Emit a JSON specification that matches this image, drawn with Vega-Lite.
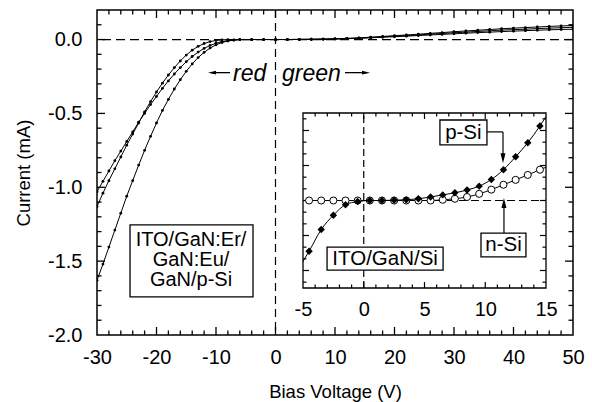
{
"$schema": "https://vega.github.io/schema/vega-lite/v6.json",
"width": 476, "height": 325,
"autosize": {"type": "none"},
"padding": {"left": 97, "top": 10, "right": 19, "bottom": 67},
"background": "white",
"view": {"stroke": "black", "strokeWidth": 1.5},
"config": {
  "font": "Liberation Sans",
  "axis": {"grid": false, "domain": false, "ticks": false, "tickSize": 0, "labelColor": "black", "labelFont": "Liberation Sans", "labelFontSize": 20, "titleFont": "Liberation Sans", "titleFontSize": 18.5, "titleFontWeight": "normal", "titleColor": "black", "labelFlush": false, "labelOverlap": false}
},
"datasets": {
"main": [
{"s":"A","V":-30,"I":-1.03},{"s":"A","V":-29,"I":-0.96},{"s":"A","V":-28,"I":-0.89},{"s":"A","V":-27,"I":-0.82},{"s":"A","V":-26,"I":-0.755},{"s":"A","V":-25,"I":-0.69},{"s":"A","V":-24,"I":-0.625},{"s":"A","V":-23,"I":-0.56},{"s":"A","V":-22,"I":-0.5},{"s":"A","V":-21,"I":-0.44},{"s":"A","V":-20,"I":-0.385},{"s":"A","V":-19,"I":-0.33},{"s":"A","V":-18,"I":-0.28},{"s":"A","V":-17,"I":-0.233},{"s":"A","V":-16,"I":-0.19},{"s":"A","V":-15,"I":-0.15},{"s":"A","V":-14,"I":-0.115},{"s":"A","V":-13,"I":-0.085},{"s":"A","V":-12,"I":-0.06},{"s":"A","V":-11,"I":-0.04},{"s":"A","V":-10,"I":-0.025},{"s":"A","V":-9,"I":-0.014},{"s":"A","V":-8,"I":-0.007},{"s":"A","V":-7,"I":-0.002},{"s":"A","V":-6,"I":0},{"s":"A","V":-4,"I":0},{"s":"A","V":-2,"I":0},{"s":"A","V":0,"I":0},{"s":"A","V":2,"I":0.0005},{"s":"A","V":4,"I":0.001},{"s":"A","V":6,"I":0.002},{"s":"A","V":8,"I":0.003},{"s":"A","V":10,"I":0.005},{"s":"A","V":12,"I":0.008},{"s":"A","V":14,"I":0.011},{"s":"A","V":16,"I":0.016},{"s":"A","V":18,"I":0.021},{"s":"A","V":20,"I":0.026},{"s":"A","V":22,"I":0.031},{"s":"A","V":24,"I":0.036},{"s":"A","V":26,"I":0.042},{"s":"A","V":28,"I":0.047},{"s":"A","V":30,"I":0.053},{"s":"A","V":32,"I":0.058},{"s":"A","V":34,"I":0.063},{"s":"A","V":36,"I":0.068},{"s":"A","V":38,"I":0.073},{"s":"A","V":40,"I":0.077},{"s":"A","V":42,"I":0.081},{"s":"A","V":44,"I":0.085},{"s":"A","V":46,"I":0.089},{"s":"A","V":48,"I":0.092},{"s":"A","V":50,"I":0.095},
{"s":"B","V":-30,"I":-1.13},{"s":"B","V":-29,"I":-1.04},{"s":"B","V":-28,"I":-0.955},{"s":"B","V":-27,"I":-0.875},{"s":"B","V":-26,"I":-0.795},{"s":"B","V":-25,"I":-0.715},{"s":"B","V":-24,"I":-0.64},{"s":"B","V":-23,"I":-0.565},{"s":"B","V":-22,"I":-0.49},{"s":"B","V":-21,"I":-0.42},{"s":"B","V":-20,"I":-0.355},{"s":"B","V":-19,"I":-0.295},{"s":"B","V":-18,"I":-0.24},{"s":"B","V":-17,"I":-0.19},{"s":"B","V":-16,"I":-0.145},{"s":"B","V":-15,"I":-0.105},{"s":"B","V":-14,"I":-0.072},{"s":"B","V":-13,"I":-0.046},{"s":"B","V":-12,"I":-0.027},{"s":"B","V":-11,"I":-0.014},{"s":"B","V":-10,"I":-0.006},{"s":"B","V":-9,"I":-0.002},{"s":"B","V":-8,"I":0},{"s":"B","V":-6,"I":0},{"s":"B","V":-4,"I":0},{"s":"B","V":-2,"I":0},{"s":"B","V":0,"I":0},{"s":"B","V":2,"I":0},{"s":"B","V":4,"I":0.001},{"s":"B","V":6,"I":0.002},{"s":"B","V":8,"I":0.003},{"s":"B","V":10,"I":0.004},{"s":"B","V":12,"I":0.007},{"s":"B","V":14,"I":0.01},{"s":"B","V":16,"I":0.014},{"s":"B","V":18,"I":0.018},{"s":"B","V":20,"I":0.023},{"s":"B","V":22,"I":0.027},{"s":"B","V":24,"I":0.031},{"s":"B","V":26,"I":0.037},{"s":"B","V":28,"I":0.041},{"s":"B","V":30,"I":0.046},{"s":"B","V":32,"I":0.05},{"s":"B","V":34,"I":0.055},{"s":"B","V":36,"I":0.059},{"s":"B","V":38,"I":0.064},{"s":"B","V":40,"I":0.067},{"s":"B","V":42,"I":0.07},{"s":"B","V":44,"I":0.074},{"s":"B","V":46,"I":0.077},{"s":"B","V":48,"I":0.08},{"s":"B","V":50,"I":0.083},
{"s":"C","V":-30,"I":-1.63},{"s":"C","V":-29,"I":-1.52},{"s":"C","V":-28,"I":-1.405},{"s":"C","V":-27,"I":-1.29},{"s":"C","V":-26,"I":-1.175},{"s":"C","V":-25,"I":-1.06},{"s":"C","V":-24,"I":-0.955},{"s":"C","V":-23,"I":-0.85},{"s":"C","V":-22,"I":-0.75},{"s":"C","V":-21,"I":-0.655},{"s":"C","V":-20,"I":-0.565},{"s":"C","V":-19,"I":-0.48},{"s":"C","V":-18,"I":-0.405},{"s":"C","V":-17,"I":-0.335},{"s":"C","V":-16,"I":-0.272},{"s":"C","V":-15,"I":-0.215},{"s":"C","V":-14,"I":-0.165},{"s":"C","V":-13,"I":-0.122},{"s":"C","V":-12,"I":-0.087},{"s":"C","V":-11,"I":-0.058},{"s":"C","V":-10,"I":-0.036},{"s":"C","V":-9,"I":-0.02},{"s":"C","V":-8,"I":-0.01},{"s":"C","V":-7,"I":-0.004},{"s":"C","V":-6,"I":-0.001},{"s":"C","V":-4,"I":0},{"s":"C","V":-2,"I":0},{"s":"C","V":0,"I":0},{"s":"C","V":2,"I":0},{"s":"C","V":4,"I":0.001},{"s":"C","V":6,"I":0.001},{"s":"C","V":8,"I":0.002},{"s":"C","V":10,"I":0.004},{"s":"C","V":12,"I":0.006},{"s":"C","V":14,"I":0.008},{"s":"C","V":16,"I":0.012},{"s":"C","V":18,"I":0.016},{"s":"C","V":20,"I":0.019},{"s":"C","V":22,"I":0.023},{"s":"C","V":24,"I":0.027},{"s":"C","V":26,"I":0.031},{"s":"C","V":28,"I":0.035},{"s":"C","V":30,"I":0.039},{"s":"C","V":32,"I":0.043},{"s":"C","V":34,"I":0.047},{"s":"C","V":36,"I":0.05},{"s":"C","V":38,"I":0.054},{"s":"C","V":40,"I":0.057},{"s":"C","V":42,"I":0.06},{"s":"C","V":44,"I":0.063},{"s":"C","V":46,"I":0.066},{"s":"C","V":48,"I":0.068},{"s":"C","V":50,"I":0.07}
],
"inset": [
{"t":"n","Vi":-5,"U":0,"m":0},{"t":"n","Vi":-4.5,"U":0,"m":1},{"t":"n","Vi":-3.5,"U":0,"m":1},{"t":"n","Vi":-2.5,"U":0,"m":1},{"t":"n","Vi":-1.5,"U":0,"m":1},{"t":"n","Vi":-0.5,"U":0,"m":1},{"t":"n","Vi":0.5,"U":0,"m":1},{"t":"n","Vi":1.5,"U":0,"m":1},{"t":"n","Vi":2.5,"U":0,"m":1},{"t":"n","Vi":3.5,"U":0,"m":1},{"t":"n","Vi":4.5,"U":0,"m":1},{"t":"n","Vi":5.5,"U":0,"m":1},{"t":"n","Vi":6.5,"U":0.02,"m":1},{"t":"n","Vi":7.5,"U":0.05,"m":1},{"t":"n","Vi":8.5,"U":0.1,"m":1},{"t":"n","Vi":9.5,"U":0.19,"m":1},{"t":"n","Vi":10.5,"U":0.31,"m":1},{"t":"n","Vi":11.5,"U":0.45,"m":1},{"t":"n","Vi":12.5,"U":0.59,"m":1},{"t":"n","Vi":13.5,"U":0.73,"m":1},{"t":"n","Vi":14.5,"U":0.88,"m":1},{"t":"n","Vi":15,"U":0.95,"m":0},
{"t":"p","Vi":-5,"U":-1.74,"m":0},{"t":"p","Vi":-4.5,"U":-1.45,"m":1},{"t":"p","Vi":-3.5,"U":-0.83,"m":1},{"t":"p","Vi":-2.5,"U":-0.42,"m":1},{"t":"p","Vi":-1.5,"U":-0.12,"m":1},{"t":"p","Vi":-0.5,"U":-0.03,"m":1},{"t":"p","Vi":0.5,"U":0,"m":1},{"t":"p","Vi":1.5,"U":0,"m":1},{"t":"p","Vi":2.5,"U":0.01,"m":1},{"t":"p","Vi":3.5,"U":0.02,"m":1},{"t":"p","Vi":4.5,"U":0.05,"m":1},{"t":"p","Vi":5.5,"U":0.1,"m":1},{"t":"p","Vi":6.5,"U":0.16,"m":1},{"t":"p","Vi":7.5,"U":0.22,"m":1},{"t":"p","Vi":8.5,"U":0.3,"m":1},{"t":"p","Vi":9.5,"U":0.41,"m":1},{"t":"p","Vi":10.5,"U":0.6,"m":1},{"t":"p","Vi":11.5,"U":0.88,"m":1},{"t":"p","Vi":12.5,"U":1.25,"m":1},{"t":"p","Vi":13.5,"U":1.65,"m":1},{"t":"p","Vi":14.5,"U":2.13,"m":1},{"t":"p","Vi":15,"U":2.4,"m":0}
]
},
"layer": [
{
 "layer": [
  {"data": {"values": [{}]}, "mark": {"type": "rule", "color": "black", "strokeWidth": 1.2, "strokeDash": [9, 5]},
   "encoding": {"y": {"datum": 0, "type": "quantitative", "scale": {"domain": [-2, 0.2], "nice": false, "zero": false}}}},
  {"data": {"values": [{}]}, "mark": {"type": "rule", "color": "black", "strokeWidth": 1.2, "strokeDash": [8, 5]},
   "encoding": {"x": {"datum": 0, "type": "quantitative", "scale": {"domain": [-30, 50], "nice": false, "zero": false}}}},
  {"data": {"name": "main"},
   "mark": {"type": "line", "color": "black", "strokeWidth": 1, "clip": true, "point": {"filled": true, "size": 8, "color": "black"}},
   "encoding": {
    "x": {"field": "V", "type": "quantitative", "scale": {"domain": [-30, 50], "nice": false, "zero": false},
          "axis": {"orient": "bottom", "values": [-30, -20, -10, 0, 10, 20, 30, 40, 50], "labelPadding": 12, "title": "Bias Voltage (V)", "titlePadding": 15, "labelExpr": "replace(format(datum.value, 'd'), '\u2212', '-')"}},
    "y": {"field": "I", "type": "quantitative", "scale": {"domain": [-2, 0.2], "nice": false, "zero": false},
          "axis": {"orient": "left", "values": [-2, -1.5, -1, -0.5, 0], "labelPadding": 15, "title": "Current (mA)", "titlePadding": 14, "labelExpr": "replace(format(datum.value, '.1f'), '\u2212', '-')"}},
    "detail": {"field": "s"}
   }},
  {"data": {"values": [{"tv":-20},{"tv":-10},{"tv":0},{"tv":10},{"tv":20},{"tv":30},{"tv":40}]},
   "layer": [
    {"mark": {"type": "point", "shape": "M0,0L0,-1", "size": 256, "filled": false, "stroke": "black", "strokeWidth": 1.3, "opacity": 1},
     "encoding": {"x": {"field": "tv", "type": "quantitative", "scale": {"domain": [-30, 50], "nice": false, "zero": false}}, "y": {"datum": -2, "type": "quantitative", "scale": {"domain": [-2, 0.2], "nice": false, "zero": false}}}},
    {"mark": {"type": "point", "shape": "M0,0L0,1", "size": 256, "filled": false, "stroke": "black", "strokeWidth": 1.3, "opacity": 1},
     "encoding": {"x": {"field": "tv", "type": "quantitative", "scale": {"domain": [-30, 50], "nice": false, "zero": false}}, "y": {"datum": 0.2, "type": "quantitative", "scale": {"domain": [-2, 0.2], "nice": false, "zero": false}}}}
   ]},
  {"data": {"values": [{"tv":-28},{"tv":-26},{"tv":-24},{"tv":-22},{"tv":-18},{"tv":-16},{"tv":-14},{"tv":-12},{"tv":-8},{"tv":-6},{"tv":-4},{"tv":-2},{"tv":2},{"tv":4},{"tv":6},{"tv":8},{"tv":12},{"tv":14},{"tv":16},{"tv":18},{"tv":22},{"tv":24},{"tv":26},{"tv":28},{"tv":32},{"tv":34},{"tv":36},{"tv":38},{"tv":42},{"tv":44},{"tv":46},{"tv":48}]},
   "layer": [
    {"mark": {"type": "point", "shape": "M0,0L0,-1", "size": 81, "filled": false, "stroke": "black", "strokeWidth": 1.3, "opacity": 1},
     "encoding": {"x": {"field": "tv", "type": "quantitative", "scale": {"domain": [-30, 50], "nice": false, "zero": false}}, "y": {"datum": -2, "type": "quantitative", "scale": {"domain": [-2, 0.2], "nice": false, "zero": false}}}},
    {"mark": {"type": "point", "shape": "M0,0L0,1", "size": 81, "filled": false, "stroke": "black", "strokeWidth": 1.3, "opacity": 1},
     "encoding": {"x": {"field": "tv", "type": "quantitative", "scale": {"domain": [-30, 50], "nice": false, "zero": false}}, "y": {"datum": 0.2, "type": "quantitative", "scale": {"domain": [-2, 0.2], "nice": false, "zero": false}}}}
   ]},
  {"data": {"values": [{"tv":-1.5},{"tv":-1},{"tv":-0.5},{"tv":0}]},
   "layer": [
    {"mark": {"type": "point", "shape": "M0,0L1,0", "size": 256, "filled": false, "stroke": "black", "strokeWidth": 1.3, "opacity": 1},
     "encoding": {"y": {"field": "tv", "type": "quantitative", "scale": {"domain": [-2, 0.2], "nice": false, "zero": false}}, "x": {"datum": -30, "type": "quantitative", "scale": {"domain": [-30, 50], "nice": false, "zero": false}}}},
    {"mark": {"type": "point", "shape": "M0,0L-1,0", "size": 256, "filled": false, "stroke": "black", "strokeWidth": 1.3, "opacity": 1},
     "encoding": {"y": {"field": "tv", "type": "quantitative", "scale": {"domain": [-2, 0.2], "nice": false, "zero": false}}, "x": {"datum": 50, "type": "quantitative", "scale": {"domain": [-30, 50], "nice": false, "zero": false}}}}
   ]},
  {"data": {"values": [{"tv":-1.9},{"tv":-1.8},{"tv":-1.7},{"tv":-1.6},{"tv":-1.4},{"tv":-1.3},{"tv":-1.2},{"tv":-1.1},{"tv":-0.9},{"tv":-0.8},{"tv":-0.7},{"tv":-0.6},{"tv":-0.4},{"tv":-0.3},{"tv":-0.2},{"tv":-0.1},{"tv":0.1}]},
   "layer": [
    {"mark": {"type": "point", "shape": "M0,0L1,0", "size": 81, "filled": false, "stroke": "black", "strokeWidth": 1.3, "opacity": 1},
     "encoding": {"y": {"field": "tv", "type": "quantitative", "scale": {"domain": [-2, 0.2], "nice": false, "zero": false}}, "x": {"datum": -30, "type": "quantitative", "scale": {"domain": [-30, 50], "nice": false, "zero": false}}}},
    {"mark": {"type": "point", "shape": "M0,0L-1,0", "size": 81, "filled": false, "stroke": "black", "strokeWidth": 1.3, "opacity": 1},
     "encoding": {"y": {"field": "tv", "type": "quantitative", "scale": {"domain": [-2, 0.2], "nice": false, "zero": false}}, "x": {"datum": 50, "type": "quantitative", "scale": {"domain": [-30, 50], "nice": false, "zero": false}}}}
   ]},
  {"data": {"values": [{}]}, "mark": {"type": "rect", "fill": "white", "stroke": "black", "strokeWidth": 1.3},
   "encoding": {"x": {"datum": -24.45, "type": "quantitative", "scale": {"domain": [-30, 50], "nice": false, "zero": false}}, "x2": {"datum": -3.78},
                "y": {"datum": -1.254, "type": "quantitative", "scale": {"domain": [-2, 0.2], "nice": false, "zero": false}}, "y2": {"datum": -1.742}}},
  {"data": {"values": [{}]}, "mark": {"type": "text", "text": ["ITO/GaN:Er/", "GaN:Eu/", "GaN/p-Si"], "lineHeight": 20, "fontSize": 20, "font": "Liberation Sans", "align": "center", "baseline": "middle", "color": "black"},
   "encoding": {"x": {"datum": -14.2, "type": "quantitative", "scale": {"domain": [-30, 50], "nice": false, "zero": false}},
                "y": {"datum": -1.356, "type": "quantitative", "scale": {"domain": [-2, 0.2], "nice": false, "zero": false}}}},
  {"data": {"values": [{}]}, "mark": {"type": "rule", "color": "black", "strokeWidth": 1.3},
   "encoding": {"x": {"datum": -10.67, "type": "quantitative", "scale": {"domain": [-30, 50], "nice": false, "zero": false}}, "x2": {"datum": -7.65},
                "y": {"datum": -0.224, "type": "quantitative", "scale": {"domain": [-2, 0.2], "nice": false, "zero": false}}}},
  {"data": {"values": [{}]}, "mark": {"type": "point", "shape": "M1,-0.45L1,0.45L-1,0Z", "size": 64, "filled": true, "color": "black", "opacity": 1},
   "encoding": {"x": {"datum": -10.67, "type": "quantitative", "scale": {"domain": [-30, 50], "nice": false, "zero": false}},
                "y": {"datum": -0.224, "type": "quantitative", "scale": {"domain": [-2, 0.2], "nice": false, "zero": false}}}},
  {"data": {"values": [{}]}, "mark": {"type": "text", "text": "red", "fontSize": 23, "fontStyle": "italic", "font": "Liberation Sans", "align": "left", "baseline": "middle", "color": "black"},
   "encoding": {"x": {"datum": -7.14, "type": "quantitative", "scale": {"domain": [-30, 50], "nice": false, "zero": false}},
                "y": {"datum": -0.235, "type": "quantitative", "scale": {"domain": [-2, 0.2], "nice": false, "zero": false}}}},
  {"data": {"values": [{}]}, "mark": {"type": "text", "text": "green", "fontSize": 23, "fontStyle": "italic", "font": "Liberation Sans", "align": "left", "baseline": "middle", "color": "black"},
   "encoding": {"x": {"datum": 1.1, "type": "quantitative", "scale": {"domain": [-30, 50], "nice": false, "zero": false}},
                "y": {"datum": -0.235, "type": "quantitative", "scale": {"domain": [-2, 0.2], "nice": false, "zero": false}}}},
  {"data": {"values": [{}]}, "mark": {"type": "rule", "color": "black", "strokeWidth": 1.3},
   "encoding": {"x": {"datum": 11.68, "type": "quantitative", "scale": {"domain": [-30, 50], "nice": false, "zero": false}}, "x2": {"datum": 15.21},
                "y": {"datum": -0.224, "type": "quantitative", "scale": {"domain": [-2, 0.2], "nice": false, "zero": false}}}},
  {"data": {"values": [{}]}, "mark": {"type": "point", "shape": "M-1,-0.45L-1,0.45L1,0Z", "size": 64, "filled": true, "color": "black", "opacity": 1},
   "encoding": {"x": {"datum": 15.21, "type": "quantitative", "scale": {"domain": [-30, 50], "nice": false, "zero": false}},
                "y": {"datum": -0.224, "type": "quantitative", "scale": {"domain": [-2, 0.2], "nice": false, "zero": false}}}}
 ]
},
{
 "layer": [
  {"data": {"values": [{}]}, "mark": {"type": "rect", "fill": "white", "stroke": "black", "strokeWidth": 1.3},
   "encoding": {
    "x": {"datum": -5, "type": "quantitative", "scale": {"domain": [-5, 15], "nice": false, "zero": false, "range": [206, 449]},
          "axis": {"orient": "bottom", "offset": -47, "values": [-5, 0, 5, 10, 15], "labelPadding": 11, "title": null, "labelExpr": "replace(format(datum.value, 'd'), '\u2212', '-')"}},
    "x2": {"datum": 15},
    "y": {"datum": -2.5, "type": "quantitative", "scale": {"domain": [-2.5, 2.5], "nice": false, "zero": false, "range": [278, 103]},
          "axis": {"orient": "left", "offset": -206, "values": [0], "labels": false, "title": null}},
    "y2": {"datum": 2.5}}},
  {"data": {"values": [{}]}, "mark": {"type": "rule", "color": "black", "strokeWidth": 1.2, "strokeDash": [7, 4]},
   "encoding": {"x": {"datum": 0, "type": "quantitative", "scale": {"domain": [-5, 15], "nice": false, "zero": false, "range": [206, 449]}},
                "y": {"datum": -2.5, "type": "quantitative", "scale": {"domain": [-2.5, 2.5], "nice": false, "zero": false, "range": [278, 103]}}, "y2": {"datum": 2.5}}},
  {"data": {"values": [{}]}, "mark": {"type": "rule", "color": "black", "strokeWidth": 1.2, "strokeDash": [8, 4]},
   "encoding": {"x": {"datum": -5, "type": "quantitative", "scale": {"domain": [-5, 15], "nice": false, "zero": false, "range": [206, 449]}}, "x2": {"datum": 15},
                "y": {"datum": 0, "type": "quantitative", "scale": {"domain": [-2.5, 2.5], "nice": false, "zero": false, "range": [278, 103]}}}},
  {"data": {"values": [{"tv":0},{"tv":5},{"tv":10}]},
   "layer": [
    {"mark": {"type": "point", "shape": "M0,0L0,-1", "size": 144, "filled": false, "stroke": "black", "strokeWidth": 1.2, "opacity": 1},
     "encoding": {"x": {"field": "tv", "type": "quantitative", "scale": {"domain": [-5, 15], "nice": false, "zero": false, "range": [206, 449]}}, "y": {"datum": -2.5, "type": "quantitative", "scale": {"domain": [-2.5, 2.5], "nice": false, "zero": false, "range": [278, 103]}}}},
    {"mark": {"type": "point", "shape": "M0,0L0,1", "size": 144, "filled": false, "stroke": "black", "strokeWidth": 1.2, "opacity": 1},
     "encoding": {"x": {"field": "tv", "type": "quantitative", "scale": {"domain": [-5, 15], "nice": false, "zero": false, "range": [206, 449]}}, "y": {"datum": 2.5, "type": "quantitative", "scale": {"domain": [-2.5, 2.5], "nice": false, "zero": false, "range": [278, 103]}}}}
   ]},
  {"data": {"values": [{"tv":-4},{"tv":-3},{"tv":-2},{"tv":-1},{"tv":1},{"tv":2},{"tv":3},{"tv":4},{"tv":6},{"tv":7},{"tv":8},{"tv":9},{"tv":11},{"tv":12},{"tv":13},{"tv":14}]},
   "layer": [
    {"mark": {"type": "point", "shape": "M0,0L0,-1", "size": 49, "filled": false, "stroke": "black", "strokeWidth": 1.2, "opacity": 1},
     "encoding": {"x": {"field": "tv", "type": "quantitative", "scale": {"domain": [-5, 15], "nice": false, "zero": false, "range": [206, 449]}}, "y": {"datum": -2.5, "type": "quantitative", "scale": {"domain": [-2.5, 2.5], "nice": false, "zero": false, "range": [278, 103]}}}},
    {"mark": {"type": "point", "shape": "M0,0L0,1", "size": 49, "filled": false, "stroke": "black", "strokeWidth": 1.2, "opacity": 1},
     "encoding": {"x": {"field": "tv", "type": "quantitative", "scale": {"domain": [-5, 15], "nice": false, "zero": false, "range": [206, 449]}}, "y": {"datum": 2.5, "type": "quantitative", "scale": {"domain": [-2.5, 2.5], "nice": false, "zero": false, "range": [278, 103]}}}}
   ]},
  {"data": {"values": [{"tv":-2},{"tv":-1},{"tv":0},{"tv":1},{"tv":2}]},
   "layer": [
    {"mark": {"type": "point", "shape": "M0,0L1,0", "size": 144, "filled": false, "stroke": "black", "strokeWidth": 1.2, "opacity": 1},
     "encoding": {"y": {"field": "tv", "type": "quantitative", "scale": {"domain": [-2.5, 2.5], "nice": false, "zero": false, "range": [278, 103]}}, "x": {"datum": -5, "type": "quantitative", "scale": {"domain": [-5, 15], "nice": false, "zero": false, "range": [206, 449]}}}},
    {"mark": {"type": "point", "shape": "M0,0L-1,0", "size": 144, "filled": false, "stroke": "black", "strokeWidth": 1.2, "opacity": 1},
     "encoding": {"y": {"field": "tv", "type": "quantitative", "scale": {"domain": [-2.5, 2.5], "nice": false, "zero": false, "range": [278, 103]}}, "x": {"datum": 15, "type": "quantitative", "scale": {"domain": [-5, 15], "nice": false, "zero": false, "range": [206, 449]}}}}
   ]},
  {"data": {"values": [{"tv":-2.333},{"tv":-1.667},{"tv":-1.333},{"tv":-0.667},{"tv":-0.333},{"tv":0.333},{"tv":0.667},{"tv":1.333},{"tv":1.667},{"tv":2.333}]},
   "layer": [
    {"mark": {"type": "point", "shape": "M0,0L1,0", "size": 49, "filled": false, "stroke": "black", "strokeWidth": 1.2, "opacity": 1},
     "encoding": {"y": {"field": "tv", "type": "quantitative", "scale": {"domain": [-2.5, 2.5], "nice": false, "zero": false, "range": [278, 103]}}, "x": {"datum": -5, "type": "quantitative", "scale": {"domain": [-5, 15], "nice": false, "zero": false, "range": [206, 449]}}}},
    {"mark": {"type": "point", "shape": "M0,0L-1,0", "size": 49, "filled": false, "stroke": "black", "strokeWidth": 1.2, "opacity": 1},
     "encoding": {"y": {"field": "tv", "type": "quantitative", "scale": {"domain": [-2.5, 2.5], "nice": false, "zero": false, "range": [278, 103]}}, "x": {"datum": 15, "type": "quantitative", "scale": {"domain": [-5, 15], "nice": false, "zero": false, "range": [206, 449]}}}}
   ]},
  {"data": {"name": "inset"}, "transform": [{"filter": "datum.t == 'n'"}],
   "mark": {"type": "line", "color": "black", "strokeWidth": 1, "interpolate": "monotone"},
   "encoding": {"x": {"field": "Vi", "type": "quantitative", "scale": {"domain": [-5, 15], "nice": false, "zero": false, "range": [206, 449]}},
                "y": {"field": "U", "type": "quantitative", "scale": {"domain": [-2.5, 2.5], "nice": false, "zero": false, "range": [278, 103]}}}},
  {"data": {"name": "inset"}, "transform": [{"filter": "datum.t == 'n' && datum.m == 1"}],
   "mark": {"type": "point", "shape": "circle", "size": 50, "filled": true, "fill": "white", "stroke": "black", "strokeWidth": 1, "opacity": 1},
   "encoding": {"x": {"field": "Vi", "type": "quantitative", "scale": {"domain": [-5, 15], "nice": false, "zero": false, "range": [206, 449]}},
                "y": {"field": "U", "type": "quantitative", "scale": {"domain": [-2.5, 2.5], "nice": false, "zero": false, "range": [278, 103]}}}},
  {"data": {"name": "inset"}, "transform": [{"filter": "datum.t == 'p'"}],
   "mark": {"type": "line", "color": "black", "strokeWidth": 1, "interpolate": "monotone"},
   "encoding": {"x": {"field": "Vi", "type": "quantitative", "scale": {"domain": [-5, 15], "nice": false, "zero": false, "range": [206, 449]}},
                "y": {"field": "U", "type": "quantitative", "scale": {"domain": [-2.5, 2.5], "nice": false, "zero": false, "range": [278, 103]}}}},
  {"data": {"name": "inset"}, "transform": [{"filter": "datum.t == 'p' && datum.m == 1"}],
   "mark": {"type": "point", "shape": "diamond", "size": 55, "filled": true, "color": "black", "opacity": 1},
   "encoding": {"x": {"field": "Vi", "type": "quantitative", "scale": {"domain": [-5, 15], "nice": false, "zero": false, "range": [206, 449]}},
                "y": {"field": "U", "type": "quantitative", "scale": {"domain": [-2.5, 2.5], "nice": false, "zero": false, "range": [278, 103]}}}},
  {"data": {"values": [{}]}, "mark": {"type": "rect", "fill": "white", "stroke": "black", "strokeWidth": 1.3},
   "encoding": {"x": {"datum": -3.02, "type": "quantitative", "scale": {"domain": [-5, 15], "nice": false, "zero": false, "range": [206, 449]}}, "x2": {"datum": 6.53},
                "y": {"datum": -1.33, "type": "quantitative", "scale": {"domain": [-2.5, 2.5], "nice": false, "zero": false, "range": [278, 103]}}, "y2": {"datum": -1.99}}},
  {"data": {"values": [{}]}, "mark": {"type": "text", "text": "ITO/GaN/Si", "fontSize": 20.5, "font": "Liberation Sans", "align": "center", "baseline": "middle", "color": "black"},
   "encoding": {"x": {"datum": 1.76, "type": "quantitative", "scale": {"domain": [-5, 15], "nice": false, "zero": false, "range": [206, 449]}},
                "y": {"datum": -1.66, "type": "quantitative", "scale": {"domain": [-2.5, 2.5], "nice": false, "zero": false, "range": [278, 103]}}}},
  {"data": {"values": [{}]}, "mark": {"type": "rect", "fill": "white", "stroke": "black", "strokeWidth": 1.3},
   "encoding": {"x": {"datum": 6.27, "type": "quantitative", "scale": {"domain": [-5, 15], "nice": false, "zero": false, "range": [206, 449]}}, "x2": {"datum": 10.14},
                "y": {"datum": 2.3, "type": "quantitative", "scale": {"domain": [-2.5, 2.5], "nice": false, "zero": false, "range": [278, 103]}}, "y2": {"datum": 1.59}}},
  {"data": {"values": [{}]}, "mark": {"type": "text", "text": "p-Si", "fontSize": 20.5, "font": "Liberation Sans", "align": "center", "baseline": "middle", "color": "black"},
   "encoding": {"x": {"datum": 8.2, "type": "quantitative", "scale": {"domain": [-5, 15], "nice": false, "zero": false, "range": [206, 449]}},
                "y": {"datum": 1.94, "type": "quantitative", "scale": {"domain": [-2.5, 2.5], "nice": false, "zero": false, "range": [278, 103]}}}},
  {"data": {"values": [{}]}, "mark": {"type": "rule", "color": "black", "strokeWidth": 1.2},
   "encoding": {"x": {"datum": 10.14, "type": "quantitative", "scale": {"domain": [-5, 15], "nice": false, "zero": false, "range": [206, 449]}}, "x2": {"datum": 11.46},
                "y": {"datum": 1.96, "type": "quantitative", "scale": {"domain": [-2.5, 2.5], "nice": false, "zero": false, "range": [278, 103]}}}},
  {"data": {"values": [{}]}, "mark": {"type": "rule", "color": "black", "strokeWidth": 1.2},
   "encoding": {"x": {"datum": 11.46, "type": "quantitative", "scale": {"domain": [-5, 15], "nice": false, "zero": false, "range": [206, 449]}},
                "y": {"datum": 1.96, "type": "quantitative", "scale": {"domain": [-2.5, 2.5], "nice": false, "zero": false, "range": [278, 103]}}, "y2": {"datum": 1.21}}},
  {"data": {"values": [{}]}, "mark": {"type": "point", "shape": "M-0.5,-1L0.5,-1L0,1Z", "size": 100, "filled": true, "color": "black", "opacity": 1},
   "encoding": {"x": {"datum": 11.46, "type": "quantitative", "scale": {"domain": [-5, 15], "nice": false, "zero": false, "range": [206, 449]}},
                "y": {"datum": 1.21, "type": "quantitative", "scale": {"domain": [-2.5, 2.5], "nice": false, "zero": false, "range": [278, 103]}}}},
  {"data": {"values": [{}]}, "mark": {"type": "rect", "fill": "white", "stroke": "black", "strokeWidth": 1.3},
   "encoding": {"x": {"datum": 9.65, "type": "quantitative", "scale": {"domain": [-5, 15], "nice": false, "zero": false, "range": [206, 449]}}, "x2": {"datum": 13.35},
                "y": {"datum": -0.93, "type": "quantitative", "scale": {"domain": [-2.5, 2.5], "nice": false, "zero": false, "range": [278, 103]}}, "y2": {"datum": -1.61}}},
  {"data": {"values": [{}]}, "mark": {"type": "text", "text": "n-Si", "fontSize": 20.5, "font": "Liberation Sans", "align": "center", "baseline": "middle", "color": "black"},
   "encoding": {"x": {"datum": 11.5, "type": "quantitative", "scale": {"domain": [-5, 15], "nice": false, "zero": false, "range": [206, 449]}},
                "y": {"datum": -1.27, "type": "quantitative", "scale": {"domain": [-2.5, 2.5], "nice": false, "zero": false, "range": [278, 103]}}}},
  {"data": {"values": [{}]}, "mark": {"type": "rule", "color": "black", "strokeWidth": 1.2},
   "encoding": {"x": {"datum": 11.54, "type": "quantitative", "scale": {"domain": [-5, 15], "nice": false, "zero": false, "range": [206, 449]}},
                "y": {"datum": -0.93, "type": "quantitative", "scale": {"domain": [-2.5, 2.5], "nice": false, "zero": false, "range": [278, 103]}}, "y2": {"datum": -0.07}}},
  {"data": {"values": [{}]}, "mark": {"type": "point", "shape": "M-0.5,1L0.5,1L0,-1Z", "size": 100, "filled": true, "color": "black", "opacity": 1},
   "encoding": {"x": {"datum": 11.54, "type": "quantitative", "scale": {"domain": [-5, 15], "nice": false, "zero": false, "range": [206, 449]}},
                "y": {"datum": -0.07, "type": "quantitative", "scale": {"domain": [-2.5, 2.5], "nice": false, "zero": false, "range": [278, 103]}}}}
 ]
}
],
"resolve": {"scale": {"x": "independent", "y": "independent"}}
}
